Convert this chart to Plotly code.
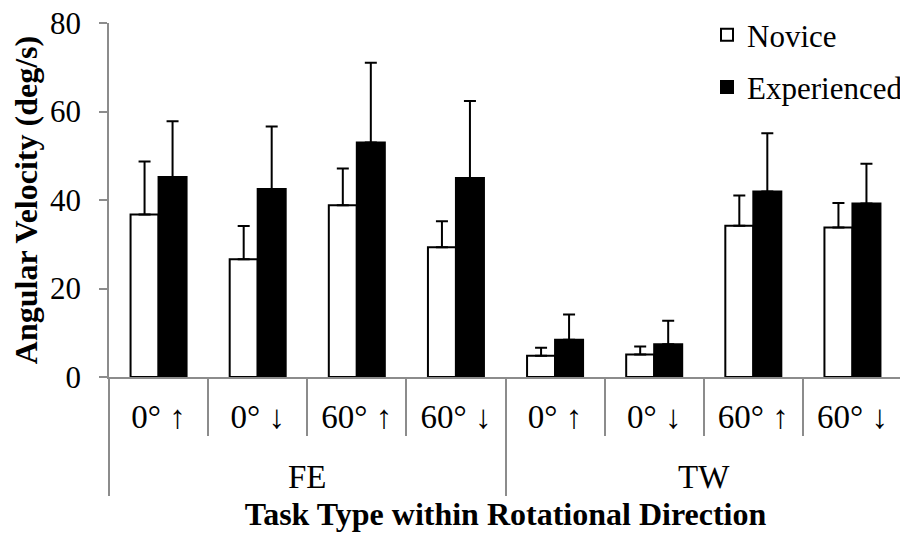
import plotly.graph_objects as go

groups = ["FE", "FE", "FE", "FE", "TW", "TW", "TW", "TW"]
tasks = ["0° ↑", "0° ↓", "60° ↑", "60° ↓", "0° ↑", "0° ↓", "60° ↑", "60° ↓"]

novice = [36.7, 26.6, 38.8, 29.3, 4.8, 5.1, 34.2, 33.8]
novice_err = [12.0, 7.5, 8.3, 5.9, 1.8, 1.8, 6.8, 5.5]
experienced = [45.2, 42.5, 53.0, 45.0, 8.4, 7.4, 41.9, 39.2]
experienced_err = [12.6, 14.1, 18.0, 17.4, 5.7, 5.3, 13.2, 9.0]

FONT = "Liberation Serif"
GRAY = "#8c8c8c"

# taller invisible padding on each inner label so the outer level sits lower
PAD = "<span style='font-size:62px'>\u00a0</span>"
inner_labels = [PAD + t + PAD for t in tasks]

fig = go.Figure()
fig.add_trace(go.Bar(
    name="Novice", x=[groups, inner_labels], y=novice, legendgroup="a",
    marker=dict(color="white", line=dict(color="black", width=2)),
    error_y=dict(type="data", array=novice_err, symmetric=False,
                 arrayminus=[0] * len(novice), color="black", thickness=2, width=6),
))
fig.add_trace(go.Bar(
    name="Experienced", x=[groups, inner_labels], y=experienced, legendgroup="b",
    marker=dict(color="black", line=dict(color="black", width=2)),
    error_y=dict(type="data", array=experienced_err, symmetric=False,
                 arrayminus=[0] * len(experienced), color="black", thickness=2, width=6),
))

# the page body adds an 8px offset, so the figure is 900x525
fig.update_layout(
    width=900, height=525,
    margin=dict(l=101, r=0, t=0, b=156),
    paper_bgcolor="white", plot_bgcolor="white",
    bargap=0.435, bargroupgap=0,
    font=dict(family=FONT, color="black", size=30),
    legend=dict(x=1, y=1, xanchor="right", yanchor="top",
                font=dict(family=FONT, size=31, color="black"), tracegroupgap=9,
                bgcolor="rgba(0,0,0,0)"),
    xaxis=dict(
        type="multicategory", automargin=False, domain=[0, 0.9925],
        showline=True, linecolor=GRAY, linewidth=1.5,
        ticks="outside", tickson="boundaries", ticklen=57, tickcolor=GRAY, tickwidth=1.5,
        showdividers=True, dividercolor=GRAY, dividerwidth=1.5,
        ticklabelstandoff=10, tickangle=0,
        tickfont=dict(family=FONT, size=33, color="black"),
        showgrid=False,
        title=dict(text="<b>Task Type within Rotational Direction</b>",
                   font=dict(family=FONT, size=32, color="black"), standoff=8),
    ),
    yaxis=dict(
        range=[0, 80], dtick=20, automargin=False, domain=[0, 0.9593],
        showline=True, linecolor=GRAY, linewidth=1.5,
        ticks="outside", ticklen=8, tickcolor=GRAY, tickwidth=1.5,
        ticksuffix="<span style='font-size:24px'>\u00a0\u00a0</span>",
        ticklabeloverflow="allow",
        showgrid=False, zeroline=False,
        tickfont=dict(family=FONT, size=31, color="black"),
        title=dict(text="<b>Angular Velocity (deg/s)</b>",
                   font=dict(family=FONT, size=32, color="black"), standoff=4),
    ),
)

fig.write_html("out.html")
